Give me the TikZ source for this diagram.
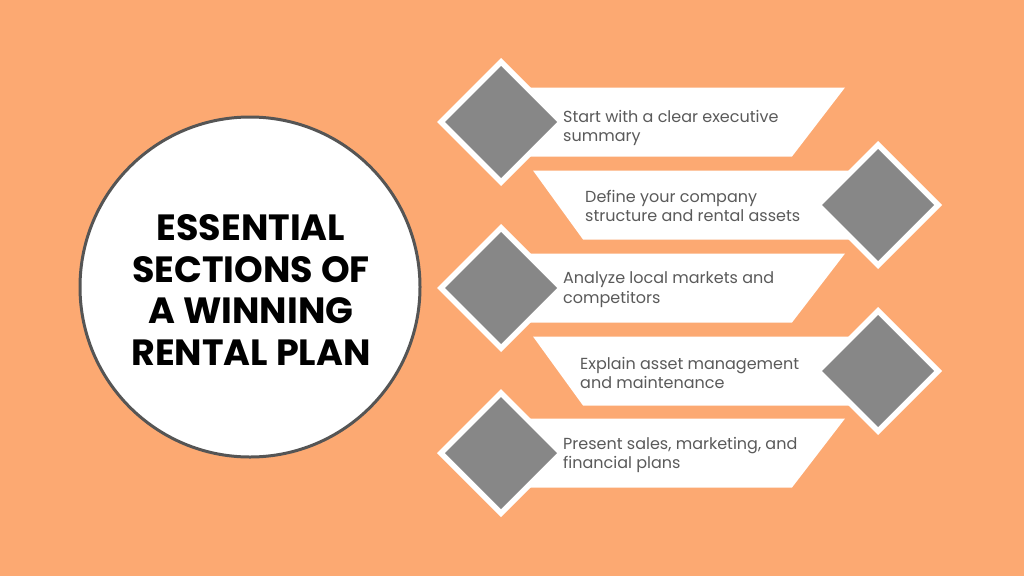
\documentclass[tikz,border=0pt]{standalone}
\usepackage{fontspec}
\setmainfont{Poppins}
\definecolor{bg}{HTML}{FCA972}
\definecolor{dgray}{HTML}{878787}
\definecolor{tgray}{HTML}{5A5A5A}
\definecolor{ring}{HTML}{555555}
\begin{document}
\begin{tikzpicture}[x=1pt,y=-1pt,
  banner/.style={fill=white},
  outerdia/.style={fill=white},
  innerdia/.style={fill=dgray},
  itemtext/.style={anchor=west,align=left,text=tgray,font=\fontsize{16}{19.8}\selectfont,inner sep=0pt},
]
\fill[bg] (0,0) rectangle (1024,576);
\useasboundingbox (0,0) rectangle (1024,576);
% circle
\node[circle,draw=ring,line width=3pt,fill=white,minimum size=340pt,inner sep=0pt] (hub) at (250,287) {};
\node[font=\fontsize{36.5}{41.8}\selectfont\bfseries,align=center,text=black] (title) at (251,290) {ESSENTIAL\\SECTIONS OF\\A WINNING\\RENTAL PLAN};
% banners
\newcommand\rightbanner[2]{%
  \fill[banner] (501,#1-34.5) -- (845,#1-34.5) -- (792,#1+34.5) -- (501,#1+34.5) -- cycle;
  \fill[outerdia] (501,#1-64) -- (565,#1) -- (501,#1+64) -- (437,#1) -- cycle;
  \fill[innerdia] (501,#1-56) -- (557,#1) -- (501,#1+56) -- (445,#1) -- cycle;
}
\newcommand\leftbanner[2]{%
  \fill[banner] (878,#1-34.5) -- (533,#1-34.5) -- (583,#1+34.5) -- (878,#1+34.5) -- cycle;
  \fill[outerdia] (878,#1-64) -- (942,#1) -- (878,#1+64) -- (814,#1) -- cycle;
  \fill[innerdia] (878,#1-56) -- (934,#1) -- (878,#1+56) -- (822,#1) -- cycle;
}
\rightbanner{122}{}
\leftbanner{205}{}
\rightbanner{288}{}
\leftbanner{371}{}
\rightbanner{453}{}
\node[itemtext] (t1) at (563,128) {Start with a clear executive\\summary};
\node[itemtext] (t2) at (585,206) {Define your company\\structure and rental assets};
\node[itemtext] (t3) at (563,289.5) {Analyze local markets and\\competitors};
\node[itemtext] (t4) at (580,373) {Explain asset management\\and maintenance};
\node[itemtext] (t5) at (563,455) {Present sales, marketing, and\\financial plans};
\end{tikzpicture}
\end{document}
